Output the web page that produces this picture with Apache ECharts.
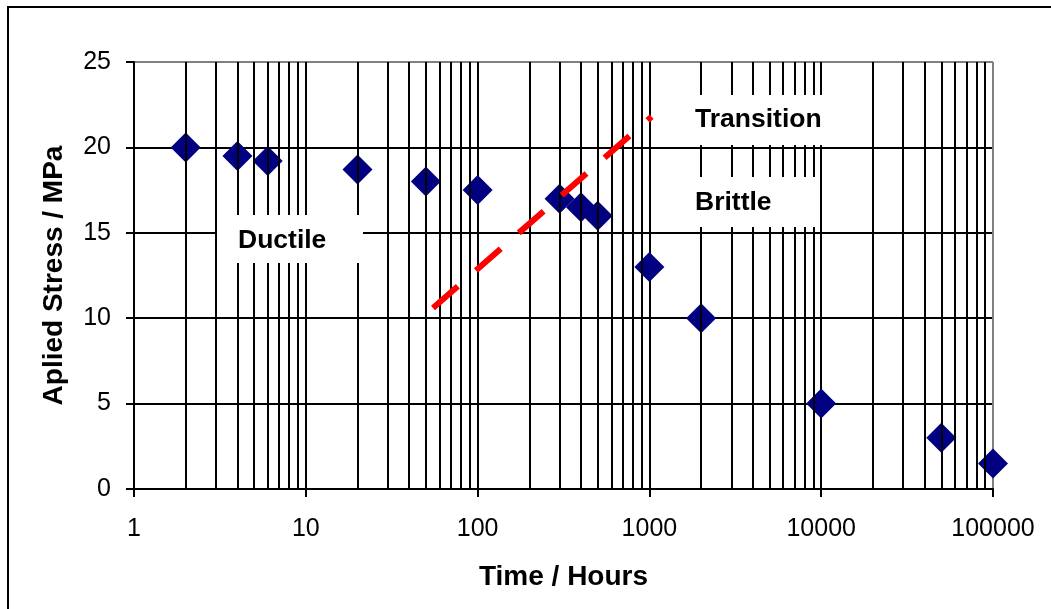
<!DOCTYPE html>
<html>
<head>
<meta charset="utf-8">
<script src="https://cdn.jsdelivr.net/npm/echarts@6/dist/echarts.min.js"></script>
<style>
  html, body { margin: 0; padding: 0; background: #fff; }
  #chart { width: 1051px; height: 609px; }
</style>
</head>
<body>
<div id="chart"></div>
<script>
// time to failure (hours) vs applied stress (MPa)
const hours = [2, 4, 6, 20, 50, 100, 300, 400, 500, 1000, 2000, 10000, 50000, 100000];
const stress = [20, 19.5, 19.2, 18.7, 18, 17.5, 17, 16.5, 16, 13, 10, 5, 3, 1.5];

// ductile / brittle transition line (drawn as a dashed red line)
const transHours = [55, 1030];
const transStress = [10.6, 21.8];

const yTicks = [0, 5, 10, 15, 20, 25];
const decades = [1, 10, 100, 1000, 10000, 100000];

const FONT = '"Liberation Sans", Arial, sans-serif';

// minor log grid lines: 2..9 within each decade
const minorLines = [];
decades.slice(0, -1).forEach(d => {
  for (let k = 2; k <= 9; k++) minorLines.push({ xAxis: d * k });
});

const chart = echarts.init(document.getElementById('chart'));

const option = {
  animation: false,
  backgroundColor: '#fff',
  grid: { left: 134, right: 58, top: 62, bottom: 120 },
  xAxis: {
    type: 'log',
    logBase: 10,
    min: decades[0],
    max: decades[decades.length - 1],
    interval: 1,
    name: 'Time / Hours',
    nameLocation: 'middle',
    nameGap: 74,
    nameTextStyle: { fontFamily: FONT, fontSize: 28, fontWeight: 'bold', color: '#000' },
    axisLine: { lineStyle: { color: '#000', width: 2 } },
    axisTick: { show: true, length: 8, lineStyle: { color: '#000', width: 2 } },
    axisLabel: {
      fontFamily: FONT, fontSize: 25, color: '#000', margin: 28,
      formatter: v => String(Math.round(v))
    },
    splitLine: {
      show: true,
      lineStyle: { color: ['#000', '#000', '#000', '#000', '#000', '#808080'], width: 2 }
    }
  },
  yAxis: {
    type: 'value',
    min: yTicks[0],
    max: yTicks[yTicks.length - 1],
    interval: 5,
    name: 'Aplied Stress / MPa',
    nameLocation: 'middle',
    nameGap: 66,
    nameTextStyle: { fontFamily: FONT, fontSize: 28, fontWeight: 'bold', color: '#000' },
    axisLine: { show: true, lineStyle: { color: '#000', width: 2 } },
    axisTick: { show: true, length: 8, lineStyle: { color: '#000', width: 2 } },
    axisLabel: { fontFamily: FONT, fontSize: 25, color: '#000', margin: 23 },
    splitLine: {
      show: true,
      lineStyle: { color: ['#000', '#000', '#000', '#000', '#000', '#808080'], width: 2 }
    }
  },
  series: [
    {
      // minor grid only
      type: 'line',
      data: [],
      z: 1,
      silent: true,
      markLine: {
        silent: true,
        symbol: ['none', 'none'],
        label: { show: false },
        lineStyle: { color: '#000', width: 2, type: 'solid' },
        data: minorLines
      }
    },
    {
      type: 'scatter',
      data: hours.map((h, i) => [h, stress[i]]),
      symbol: 'diamond',
      symbolSize: 30,
      itemStyle: { color: '#000080', opacity: 1 },
      z: 4
    },
    {
      type: 'line',
      data: transHours.map((h, i) => [h, transStress[i]]),
      symbol: 'none',
      lineStyle: { color: '#ff0000', width: 6, type: [33, 24], cap: 'butt' },
      z: 5
    }
  ],
  graphic: [
    { type: 'rect', z: 10, shape: { x: 217, y: 215, width: 146, height: 48 }, style: { fill: '#fff' } },
    { type: 'rect', z: 10, shape: { x: 680, y: 95, width: 155, height: 50 }, style: { fill: '#fff' } },
    { type: 'rect', z: 10, shape: { x: 680, y: 177, width: 138, height: 50 }, style: { fill: '#fff' } },
    { type: 'text', z: 11, x: 238, y: 241, style: { text: 'Ductile', font: 'bold 26.5px ' + FONT, fill: '#000', verticalAlign: 'middle' } },
    { type: 'text', z: 11, x: 695, y: 120, style: { text: 'Transition', font: 'bold 26.5px ' + FONT, fill: '#000', verticalAlign: 'middle' } },
    { type: 'text', z: 11, x: 695, y: 203, style: { text: 'Brittle', font: 'bold 26.5px ' + FONT, fill: '#000', verticalAlign: 'middle' } },
    // chart area border (runs off the right and bottom edges)
    { type: 'rect', z: 12, shape: { x: 8, y: 7, width: 1100, height: 700 }, style: { fill: 'none', stroke: '#000', lineWidth: 2 } }
  ]
};

chart.setOption(option);
</script>
</body>
</html>
